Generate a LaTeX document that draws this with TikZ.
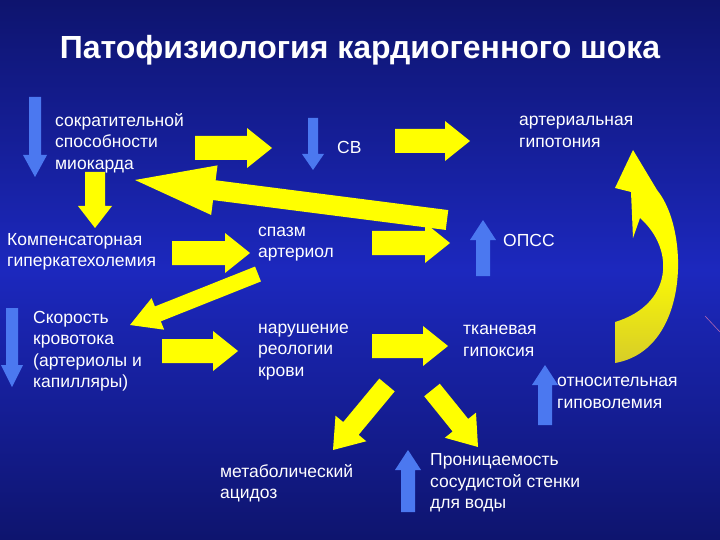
\documentclass[tikz,border=0pt]{standalone}
\usepackage{fontspec}
\setmainfont{Liberation Sans}
\usetikzlibrary{calc}
\definecolor{bgmid}{RGB}{28,40,190}
\definecolor{bgdark}{RGB}{14,20,110}
\definecolor{ylw}{RGB}{255,255,0}
\definecolor{ylwd}{RGB}{215,205,40}
\definecolor{blu}{RGB}{75,120,240}
% #1 style, #2 start, #3 end, #4 half shaft, #5 head length, #6 half head
\newcommand{\fatarrow}[6]{%
  \coordinate (fa) at #2; \coordinate (fb) at #3;
  \coordinate (fh) at ($(fb)!#5!(fa)$);
  \fill[#1] ($(fa)!#4!90:(fb)$) -- ($(fh)!#4!-90:(fa)$) -- ($(fh)!#6!-90:(fa)$) -- (fb)
    -- ($(fh)!#6!90:(fa)$) -- ($(fh)!#4!90:(fa)$) -- ($(fa)!#4!-90:(fb)$) -- cycle;}
\tikzset{txt/.style={text=white,font=\fontsize{17.5}{21.5}\selectfont,align=left,anchor=west,inner sep=0pt},
  Y/.style={fill=ylw}, B/.style={fill=blu}}
\begin{document}
\begin{tikzpicture}[x=1pt,y=-1pt]
\shade[top color=bgdark,bottom color=bgdark,middle color=bgmid] (0,0) rectangle (720,540);
\useasboundingbox (0,0) rectangle (720,540);
\draw[violet!60!white,line width=0.6pt] (705,316) -- (720,332);
\node[text=white,font=\bfseries\fontsize{32}{36}\selectfont] (title) at (360,50) {Патофизиология кардиогенного шока};
\node[txt] (sok) at (55,143) {сократительной\\способности\\миокарда};
\node[txt] (sv) at (337,147) {СВ};
\node[txt] (ag) at (519,132) {артериальная\\гипотония};
\node[txt] (komp) at (7,252) {Компенсаторная\\гиперкатехолемия};
\node[txt] (spazm) at (258,244) {спазм\\артериол};
\node[txt] (opss) at (503,240) {ОПСС};
\node[txt] (skor) at (33,351) {Скорость\\кровотока\\(артериолы и\\капилляры)};
\node[txt] (nar) at (258,352) {нарушение\\реологии\\крови};
\node[txt] (tk) at (463,341) {тканевая\\гипоксия};
\node[txt] (otn) at (557,393) {относительная\\гиповолемия};
\node[txt] (met) at (220,483) {метаболический\\ацидоз};
\node[txt] (pron) at (430,483) {Проницаемость\\сосудистой стенки\\для воды};
% blue arrows
\fatarrow{B}{(35,97)}{(35,177)}{6pt}{22pt}{12pt}
\fatarrow{B}{(313,118)}{(313,170)}{5pt}{16pt}{11pt}
\fatarrow{B}{(483,276)}{(483,220)}{7pt}{20pt}{13pt}
\fatarrow{B}{(12,308)}{(12,387)}{6pt}{22pt}{11pt}
\fatarrow{B}{(545,425)}{(545,365)}{7pt}{20pt}{13pt}
\fatarrow{B}{(408,512)}{(408,450)}{7pt}{20pt}{13pt}
% yellow arrows
\fatarrow{Y}{(195,148)}{(272,148)}{12pt}{25pt}{20pt}
\fatarrow{Y}{(395,141)}{(470,141)}{12pt}{25pt}{20pt}
\fatarrow{Y}{(447,220)}{(135,180)}{10pt}{80pt}{25pt}
\fatarrow{Y}{(95,172)}{(95,228)}{10pt}{22pt}{17pt}
\fatarrow{Y}{(172,253)}{(250,253)}{12pt}{25pt}{20pt}
\fatarrow{Y}{(372,243)}{(450,243)}{12pt}{25pt}{20pt}
\fatarrow{Y}{(258,274)}{(130,325)}{8pt}{30pt}{17pt}
\fatarrow{Y}{(162,351)}{(238,351)}{12pt}{25pt}{20pt}
\fatarrow{Y}{(372,346)}{(448,346)}{12pt}{25pt}{20pt}
\fatarrow{Y}{(387,385)}{(333,450)}{10pt}{28pt}{20pt}
\fatarrow{Y}{(432,390)}{(478,447)}{10pt}{28pt}{20pt}
% curved arrow
\shade[top color=ylw,bottom color=ylwd,middle color=ylw] (633,150) -- (615,188) -- (631,192) -- (633,238) -- (640,218)
  .. controls (676,250) and (672,305) .. (615,322) -- (615,363)
  .. controls (690,350) and (690,230) .. (657,190) -- cycle;
\end{tikzpicture}
\end{document}
